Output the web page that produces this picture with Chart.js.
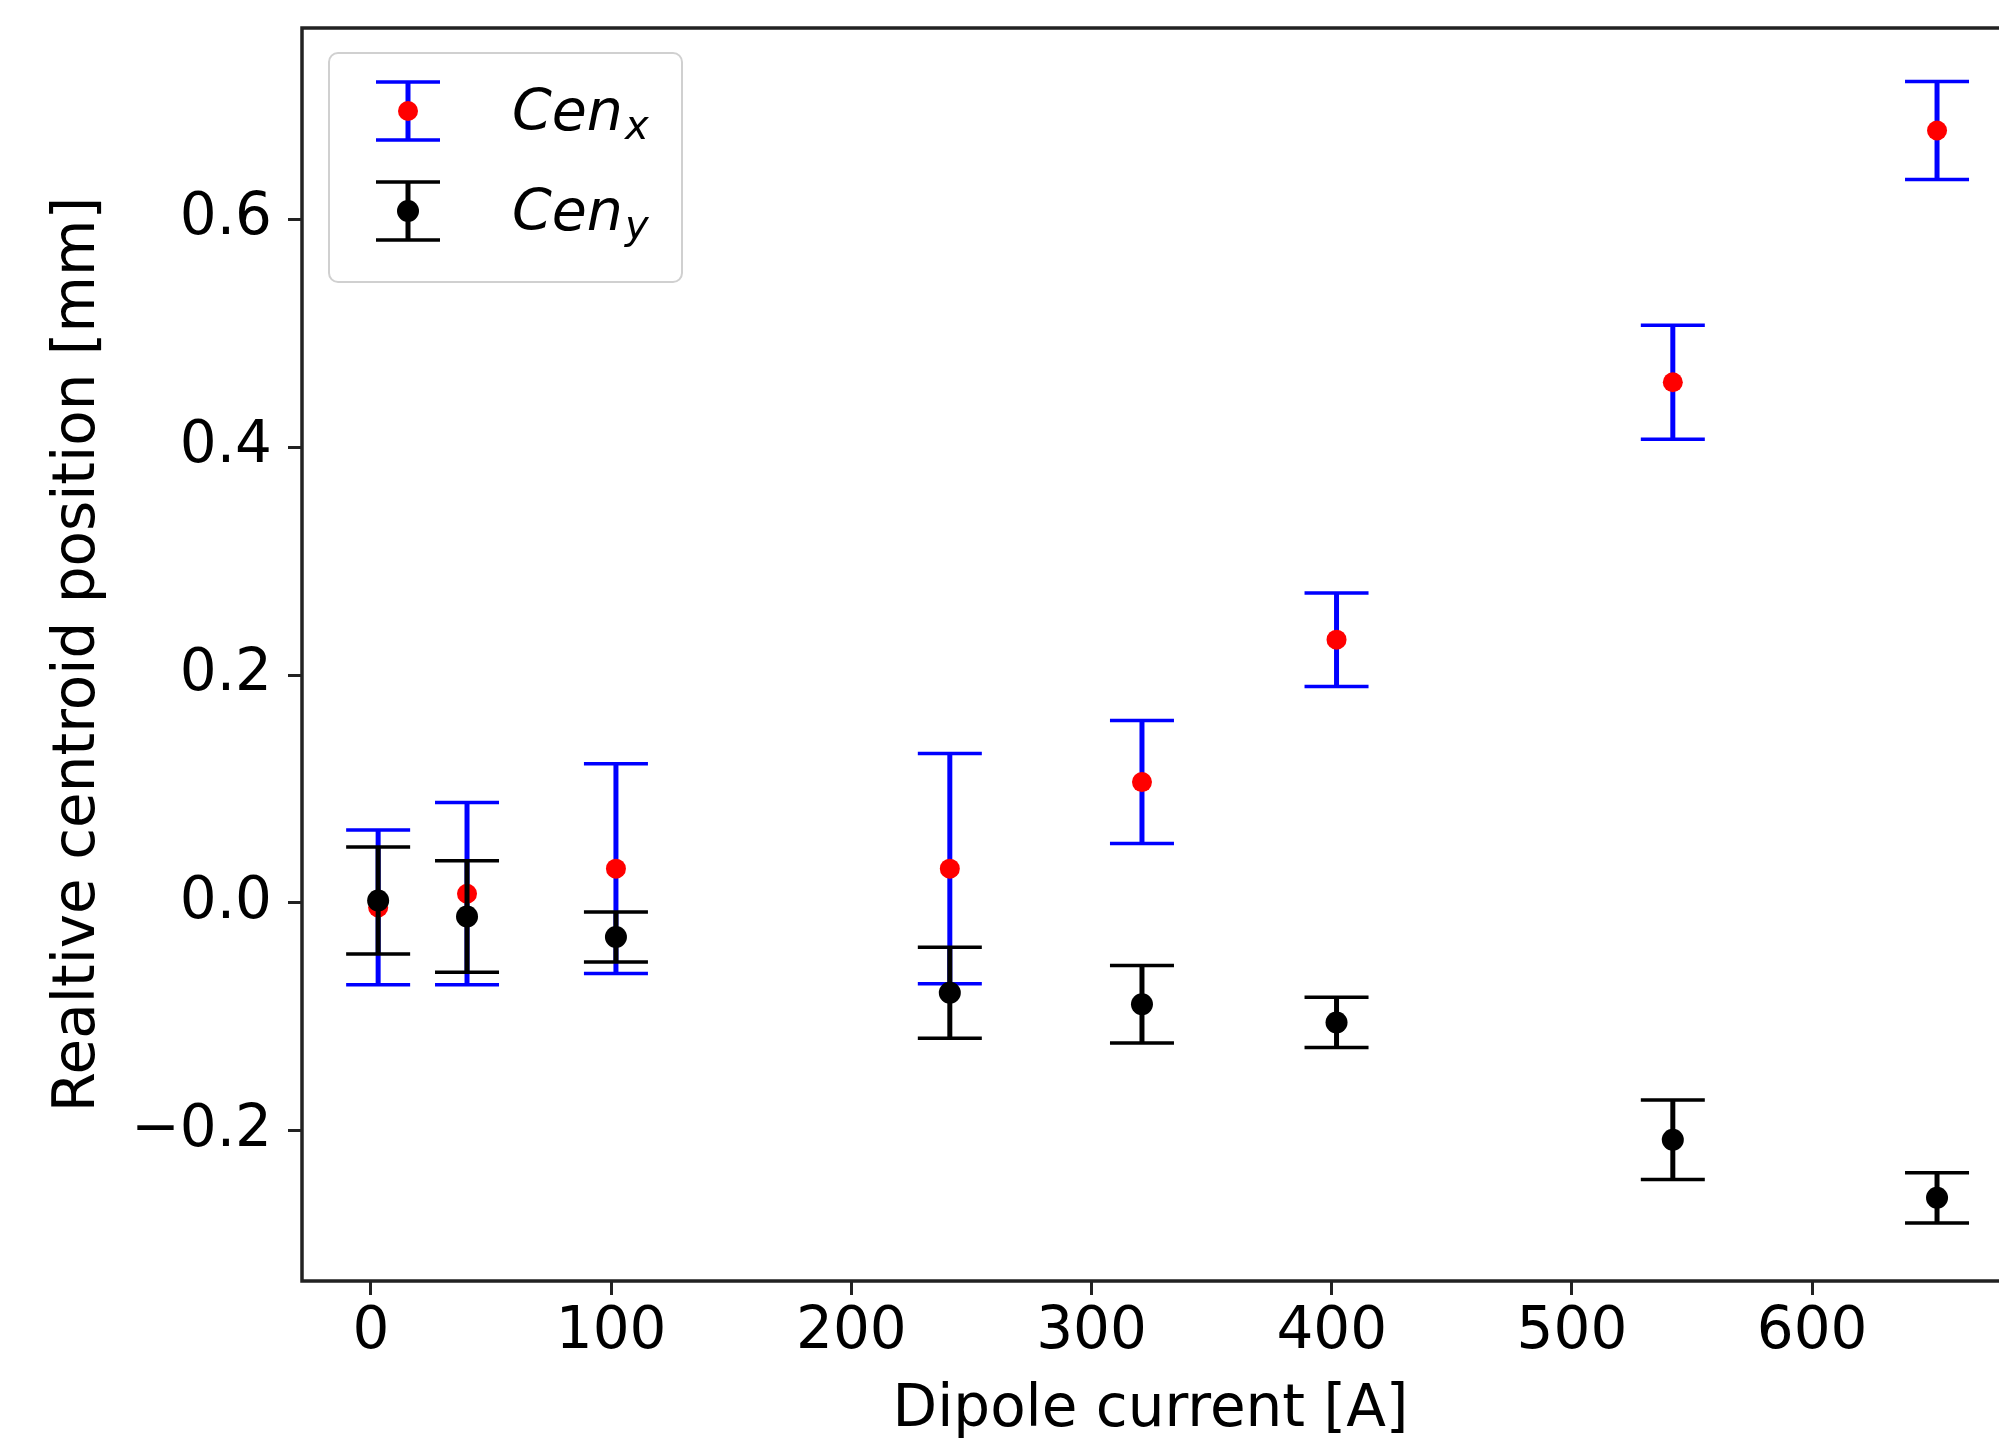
<!DOCTYPE html>
<html lang="en">
<head>
<meta charset="UTF-8">
<title>Relative centroid position vs dipole current</title>
<script src="https://cdn.jsdelivr.net/npm/chart.js"></script>
<style>
    body { margin: 0; background: #fff; }
    #wrap { width: 1999px; height: 1440px; }
</style>
</head>
<body>
<div id="wrap"><canvas id="chart" width="1999" height="1440"></canvas></div>
<script>
// dipole current [A]
const currents = [3, 40, 102, 241, 321, 402, 542, 652];
// horizontal centroid [mm] and its error
const cenX    = [-0.004, 0.008, 0.030, 0.030, 0.106, 0.231, 0.457, 0.678];
const cenXErr = [0.068, 0.080, 0.092, 0.101, 0.054, 0.041, 0.050, 0.043];
// vertical centroid [mm] and its error
const cenY    = [0.002, -0.012, -0.030, -0.079, -0.089, -0.105, -0.208, -0.259];
const cenYErr = [0.047, 0.049, 0.022, 0.040, 0.034, 0.022, 0.035, 0.022];

const xTicks = [0, 100, 200, 300, 400, 500, 600];
const yTicks = [-0.2, 0.0, 0.2, 0.4, 0.6];
const xRange = [-28.7, 677.8];
const yRange = [-0.332, 0.768];

Chart.defaults.font.family = '"DejaVu Sans", sans-serif';
Chart.defaults.color = '#000';

// vertical error bars with caps, drawn just under each dataset's markers
const errorBars = {
    id: 'errorBars',
    beforeDatasetDraw(chart, args) {
        const ds = chart.data.datasets[args.index];
        if (!ds.errors) return;
        const { ctx, scales: { x, y } } = chart;
        ctx.save();
        ctx.strokeStyle = ds.barColor;
        ds.data.forEach((p, i) => {
            const px = x.getPixelForValue(p.x);
            const top = y.getPixelForValue(p.y + ds.errors[i]);
            const bot = y.getPixelForValue(p.y - ds.errors[i]);
            ctx.lineWidth = 5;
            ctx.beginPath();
            ctx.moveTo(px, top);
            ctx.lineTo(px, bot);
            ctx.stroke();
            ctx.lineWidth = 3.5;
            ctx.beginPath();
            ctx.moveTo(px - 32, top); ctx.lineTo(px + 32, top);
            ctx.moveTo(px - 32, bot); ctx.lineTo(px + 32, bot);
            ctx.stroke();
        });
        ctx.restore();
    }
};

// left, top and bottom spines (the right side is cut off in the original)
const frame = {
    id: 'frame',
    afterDatasetsDraw(chart) {
        const { ctx, chartArea: a } = chart;
        ctx.save();
        ctx.strokeStyle = '#222';
        ctx.lineWidth = 3.5;
        ctx.beginPath();
        ctx.moveTo(a.right, a.top);
        ctx.lineTo(a.left, a.top);
        ctx.lineTo(a.left, a.bottom);
        ctx.lineTo(a.right, a.bottom);
        ctx.stroke();
        ctx.restore();
    }
};

// matplotlib style legend with errorbar icons and subscripted labels
const errLegend = {
    id: 'errLegend',
    afterDraw(chart) {
        const { ctx, chartArea: a } = chart;
        const left = a.left + 27, top = a.top + 25, w = 353, h = 229;
        ctx.save();
        ctx.beginPath();
        ctx.roundRect(left, top, w, h, 9);
        ctx.fillStyle = 'rgba(255,255,255,0.8)';
        ctx.fill();
        ctx.strokeStyle = '#d0d0d0';
        ctx.lineWidth = 2;
        ctx.stroke();

        chart.data.datasets.forEach((ds, i) => {
            const cy = top + 58 + i * 100;
            const cx = left + 79;
            ctx.strokeStyle = ds.barColor;
            ctx.lineWidth = 5;
            ctx.beginPath();
            ctx.moveTo(cx, cy - 29);
            ctx.lineTo(cx, cy + 29);
            ctx.stroke();
            ctx.lineWidth = 3.5;
            ctx.beginPath();
            ctx.moveTo(cx - 32, cy - 29); ctx.lineTo(cx + 32, cy - 29);
            ctx.moveTo(cx - 32, cy + 29); ctx.lineTo(cx + 32, cy + 29);
            ctx.stroke();
            ctx.fillStyle = ds.pointBackgroundColor;
            ctx.beginPath();
            ctx.arc(cx, cy, ds.pointRadius, 0, Math.PI * 2);
            ctx.fill();

            const [name, sub] = ds.label.split('_');
            const tx = left + 183;
            ctx.fillStyle = '#000';
            ctx.textBaseline = 'alphabetic';
            ctx.textAlign = 'left';
            ctx.font = 'italic 57px "DejaVu Sans"';
            ctx.fillText(name, tx, cy + 19);
            const wName = ctx.measureText(name).width;
            ctx.font = 'italic 40px "DejaVu Sans"';
            ctx.fillText(sub, tx + wName + 2, cy + 28);
        });
        ctx.restore();
    }
};

const tickFont = { size: 58, lineHeight: 1 };
const titleFont = { size: 58, lineHeight: 1 };
const tickGrid = {
    drawOnChartArea: false,
    drawTicks: true,
    tickLength: 14,
    tickWidth: 3,
    color: '#222'
};

new Chart(document.getElementById('chart'), {
    type: 'scatter',
    data: {
        datasets: [
            {
                label: 'Cen_x',
                data: currents.map((c, i) => ({ x: c, y: cenX[i] })),
                errors: cenXErr,
                barColor: '#0000ff',
                pointBackgroundColor: '#ff0000',
                pointBorderWidth: 0,
                borderWidth: 0,
                pointRadius: 10,
                order: 1
            },
            {
                label: 'Cen_y',
                data: currents.map((c, i) => ({ x: c, y: cenY[i] })),
                errors: cenYErr,
                barColor: '#000000',
                pointBackgroundColor: '#000000',
                pointBorderWidth: 0,
                borderWidth: 0,
                pointRadius: 11,
                order: 0
            }
        ]
    },
    options: {
        responsive: false,
        devicePixelRatio: 1,
        animation: false,
        events: [],
        layout: { autoPadding: false, padding: { top: 28, right: 0, bottom: 0, left: 0 } },
        plugins: {
            legend: { display: false },
            tooltip: { enabled: false }
        },
        scales: {
            x: {
                type: 'linear',
                min: xRange[0],
                max: xRange[1],
                afterBuildTicks: s => { s.ticks = xTicks.map(v => ({ value: v })); },
                afterFit: s => { s.height = 159; s.paddingLeft = 0; s.paddingRight = 0; },
                grid: tickGrid,
                border: { display: false },
                ticks: {
                    font: tickFont,
                    color: '#000',
                    padding: 9,
                    maxRotation: 0,
                    autoSkip: false,
                    callback: v => String(v)
                },
                title: {
                    display: true,
                    text: 'Dipole current [A]',
                    color: '#000',
                    font: titleFont,
                    padding: { top: 3, bottom: 0 }
                }
            },
            y: {
                type: 'linear',
                min: yRange[0],
                max: yRange[1],
                afterBuildTicks: s => { s.ticks = yTicks.map(v => ({ value: v })); },
                afterFit: s => { s.width = 302; s.paddingTop = 0; s.paddingBottom = 0; },
                grid: tickGrid,
                border: { display: false },
                ticks: {
                    font: tickFont,
                    color: '#000',
                    padding: 16,
                    callback: v => (v < 0 ? '\u2212' : '') + Math.abs(v).toFixed(1)
                },
                title: {
                    display: true,
                    text: 'Realtive centroid position [mm]',
                    color: '#000',
                    font: titleFont,
                    padding: { top: 50, bottom: 0 }
                }
            }
        }
    },
    plugins: [errorBars, frame, errLegend]
});
</script>
</body>
</html>
